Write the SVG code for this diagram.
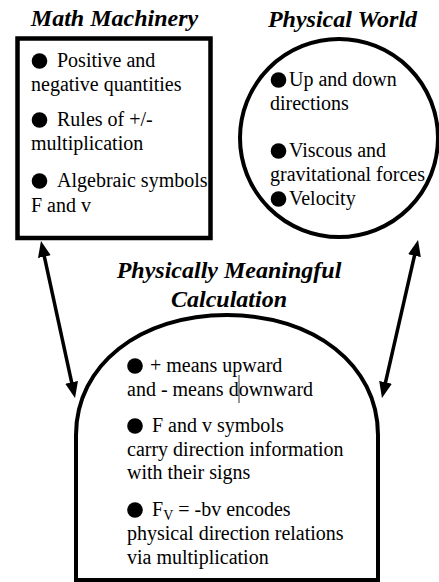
<svg xmlns="http://www.w3.org/2000/svg" width="439" height="582" viewBox="0 0 439 582">
  <style>
    .title { font-family: "Liberation Serif", "Times New Roman", serif; font-size: 24px; font-weight: bold; font-style: italic; fill: #000; text-anchor: middle; }
    .body { font-family: "Liberation Serif", "Times New Roman", serif; font-size: 20px; fill: #000; }
    .sub { font-size: 14px; }
    .outline { fill: none; stroke: #000; }
    .dot { fill: #000; }
    .conn { stroke: #000; stroke-width: 3.5; fill: none; marker-start: url(#head); marker-end: url(#head); }
  </style>
  <defs>
    <marker id="head" viewBox="0 0 16 13" markerUnits="userSpaceOnUse" markerWidth="16" markerHeight="13" refX="6" refY="6.5" orient="auto-start-reverse">
      <path d="M0,0 L16,6.5 L0,13 Z" fill="#000"/>
    </marker>
  </defs>
  <rect width="439" height="582" fill="#fff"/>

  <!-- Math Machinery: square box -->
  <g id="math-machinery">
    <text class="title" x="114.5" y="26">Math Machinery</text>
    <rect class="outline" x="17.5" y="38.5" width="193" height="199.5" stroke-width="4.5"/>
    <circle class="dot" cx="39.5" cy="61" r="7.8"/>
    <text class="body" x="57" y="67">Positive and</text>
    <text class="body" x="31" y="91">negative quantities</text>
    <circle class="dot" cx="39.5" cy="120" r="7.8"/>
    <text class="body" x="57" y="126">Rules of +/-</text>
    <text class="body" x="31" y="150">multiplication</text>
    <circle class="dot" cx="39.5" cy="181" r="7.8"/>
    <text class="body" x="57" y="187">Algebraic symbols</text>
    <text class="body" x="31" y="212">F and v</text>
  </g>

  <!-- Physical World: circle -->
  <g id="physical-world">
    <text class="title" x="342.5" y="27">Physical World</text>
    <circle class="outline" cx="339" cy="138" r="99" stroke-width="4"/>
    <circle class="dot" cx="278.5" cy="80" r="7.8"/>
    <text class="body" x="289" y="86">Up and down</text>
    <text class="body" x="270" y="110">directions</text>
    <circle class="dot" cx="278.5" cy="151" r="7.8"/>
    <text class="body" x="289" y="157">Viscous and</text>
    <text class="body" x="270" y="181">gravitational forces</text>
    <circle class="dot" cx="278.5" cy="199" r="7.8"/>
    <text class="body" x="289" y="205">Velocity</text>
  </g>

  <!-- Physically Meaningful Calculation: dome -->
  <g id="calculation">
    <text class="title" x="229" y="278">Physically Meaningful</text>
    <text class="title" x="229" y="307">Calculation</text>
    <path class="outline" stroke-width="4" d="M76,580 L76,435 C76,365 140,315 227,315 C314,315 378,365 378,435 L378,580 Z"/>
    <circle class="dot" cx="135" cy="366" r="7.8"/>
    <text class="body" x="150" y="372">+ means upward</text>
    <text class="body" x="127" y="396">and - means downward</text>
    <line x1="239" y1="375" x2="239" y2="403" stroke="#333" stroke-width="1"/>
    <circle class="dot" cx="135" cy="426" r="7.8"/>
    <text class="body" x="152" y="432">F and v symbols</text>
    <text class="body" x="127" y="456">carry direction information</text>
    <text class="body" x="127" y="479">with their signs</text>
    <circle class="dot" cx="135" cy="510" r="7.8"/>
    <text class="body" x="152" y="516">F<tspan class="sub" dy="4">V</tspan><tspan dy="-4"> = -bv encodes</tspan></text>
    <text class="body" x="127" y="540">physical direction relations</text>
    <text class="body" x="127" y="564">via multiplication</text>
  </g>

  <!-- two-way connectors -->
  <g id="connectors">
    <line class="conn" x1="43.1" y1="250.8" x2="72.9" y2="388.2"/>
    <line class="conn" x1="415.8" y1="249.8" x2="384.2" y2="388.2"/>
  </g>
</svg>
